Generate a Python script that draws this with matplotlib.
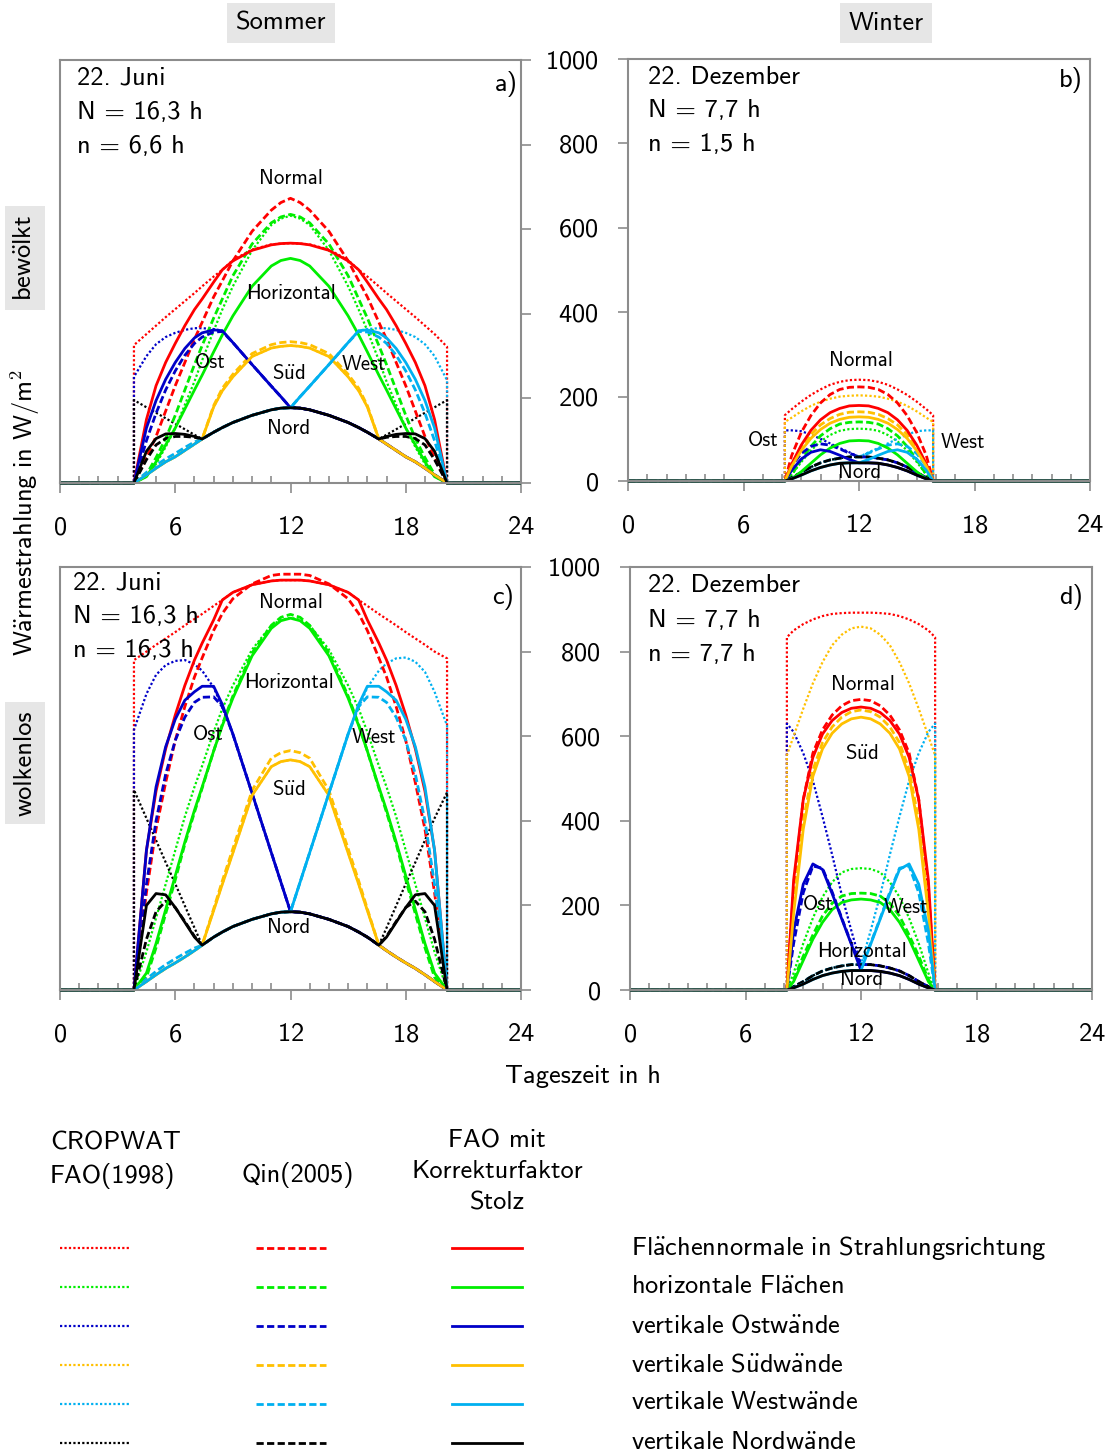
import matplotlib
matplotlib.use('Agg')
import matplotlib.pyplot as plt
from matplotlib.ticker import MultipleLocator

plt.rcParams['font.family'] = ['cmss10', 'DejaVu Sans']
plt.rcParams['mathtext.fontset'] = 'cm'
plt.rcParams['axes.formatter.use_mathtext'] = True

# --- time grids (h) ---
hours_summer = [0, 3.85, 3.85, 4.5, 5, 5.5, 6, 6.5, 7, 7.4, 8, 8.45, 9, 10, 11, 11.5, 12, 12.5,
                13, 14, 15, 15.55, 16, 16.6, 17, 17.5, 18, 18.5, 19, 19.5, 20.15, 20.15, 24]
hours_winter = [0, 8.15, 8.15, 8.5, 9, 9.5, 10, 10.5, 11, 11.5, 12,
                12.5, 13, 13.5, 14, 14.5, 15, 15.5, 15.85, 15.85, 24]

# --- a) Sommer, bewölkt (W/m2) ---
a_norm_cropwat = [0, 0, 326, 352, 372, 392, 411, 430, 449, 465, 488, 504, 527, 552, 564, 566, 567, 566, 564, 552, 527, 504, 488, 465, 449, 430, 411, 392, 372, 352, 322, 0, 0]
a_norm_qin = [0, 0, 0, 60, 110, 170, 230, 285, 340, 380, 440, 478, 525, 595, 645, 663, 673, 663, 645, 595, 525, 478, 440, 380, 340, 285, 230, 170, 110, 60, 0, 0, 0]
a_norm_stolz = [0, 0, 0, 150, 230, 285, 330, 372, 410, 435, 475, 504, 525, 550, 563, 566, 567, 566, 563, 550, 525, 504, 475, 435, 410, 372, 330, 285, 230, 150, 0, 0, 0]
a_hor_cropwat = [0, 0, 0, 15, 45, 85, 130, 185, 240, 290, 360, 410, 465, 550, 610, 625, 632, 625, 610, 550, 465, 410, 360, 290, 240, 185, 130, 85, 45, 15, 0, 0, 0]
a_hor_qin = [0, 0, 0, 20, 60, 105, 160, 220, 280, 325, 390, 435, 490, 565, 615, 629, 635, 629, 615, 565, 490, 435, 390, 325, 280, 220, 160, 105, 60, 20, 0, 0, 0]
a_hor_stolz = [0, 0, 0, 15, 50, 90, 130, 175, 220, 255, 310, 350, 395, 465, 513, 526, 531, 526, 513, 465, 395, 350, 310, 255, 220, 175, 130, 90, 50, 15, 0, 0, 0]
a_ost_cropwat = [0, 0, 251, 300, 328, 345, 355, 362, 366, 366, 364, 360, 332, 280, 229, 204, 178, 177, 173, 160, 143, 131, 120, 104, 92, 77, 62, 50, 35, 19, 0, 0, 0]
a_ost_qin = [0, 0, 0, 100, 165, 220, 265, 302, 330, 345, 357, 358, 332, 280, 229, 204, 178, 177, 173, 160, 143, 131, 120, 104, 92, 77, 62, 50, 35, 19, 0, 0, 0]
a_ost_stolz = [0, 0, 0, 130, 195, 245, 285, 318, 343, 355, 362, 360, 332, 280, 229, 204, 178, 177, 173, 160, 143, 131, 120, 104, 92, 77, 62, 50, 35, 19, 0, 0, 0]
a_sued_cropwat = [0, 0, 0, 19, 35, 50, 62, 77, 92, 104, 180, 218, 251, 299, 319, 323, 325, 323, 319, 299, 251, 218, 180, 104, 92, 77, 62, 50, 35, 19, 0, 0, 0]
a_sued_qin = [0, 0, 0, 19, 35, 50, 62, 77, 92, 104, 183, 224, 257, 306, 327, 332, 334, 332, 327, 306, 257, 224, 183, 104, 92, 77, 62, 50, 35, 19, 0, 0, 0]
a_sued_stolz = [0, 0, 0, 19, 35, 50, 62, 77, 92, 104, 180, 218, 251, 299, 319, 323, 325, 323, 319, 299, 251, 218, 180, 104, 92, 77, 62, 50, 35, 19, 0, 0, 0]
a_west_cropwat = [0, 0, 0, 19, 35, 50, 62, 77, 92, 104, 120, 131, 143, 160, 173, 177, 178, 204, 229, 280, 332, 360, 364, 366, 366, 362, 355, 345, 328, 300, 243, 0, 0]
a_west_qin = [0, 0, 0, 25, 42, 57, 70, 84, 97, 104, 120, 131, 143, 160, 173, 177, 178, 204, 229, 280, 332, 358, 357, 345, 330, 302, 265, 220, 165, 100, 0, 0, 0]
a_west_stolz = [0, 0, 0, 19, 35, 50, 62, 77, 92, 104, 120, 131, 143, 160, 173, 177, 178, 204, 229, 280, 332, 360, 362, 355, 343, 318, 285, 245, 195, 130, 0, 0, 0]
a_nord_cropwat = [0, 0, 196, 179, 166, 153, 140, 127, 114, 104, 120, 131, 143, 160, 173, 177, 178, 177, 173, 160, 143, 131, 120, 104, 114, 127, 140, 153, 166, 179, 196, 0, 0]
a_nord_qin = [0, 0, 0, 55, 90, 105, 110, 110, 108, 104, 120, 131, 143, 160, 173, 177, 178, 177, 173, 160, 143, 131, 120, 104, 108, 110, 110, 105, 90, 55, 0, 0, 0]
a_nord_stolz = [0, 0, 0, 75, 105, 116, 117, 115, 110, 104, 120, 131, 143, 160, 173, 177, 178, 177, 173, 160, 143, 131, 120, 104, 110, 115, 117, 116, 105, 75, 0, 0, 0]

# --- b) Winter, bewölkt ---
b_norm_cropwat = [0, 0, 156, 170, 188, 204, 217, 228, 235, 239, 240, 239, 235, 228, 217, 204, 188, 170, 156, 0, 0]
b_norm_qin = [0, 0, 0, 60, 115, 155, 185, 205, 217, 222, 223, 222, 217, 205, 185, 155, 115, 60, 0, 0, 0]
b_norm_stolz = [0, 0, 0, 40, 85, 120, 145, 162, 172, 178, 179, 178, 172, 162, 145, 120, 85, 40, 0, 0, 0]
b_hor_cropwat = [0, 0, 0, 15, 45, 72, 94, 109, 119, 123, 124, 123, 119, 109, 94, 72, 45, 15, 0, 0, 0]
b_hor_qin = [0, 0, 0, 15, 50, 82, 107, 124, 135, 139, 140, 139, 135, 124, 107, 82, 50, 15, 0, 0, 0]
b_hor_stolz = [0, 0, 0, 5, 22, 42, 62, 78, 89, 95, 96, 95, 89, 78, 62, 42, 22, 5, 0, 0, 0]
b_ost_cropwat = [0, 0, 120, 120, 118, 110, 100, 89, 78, 68, 57, 57, 54, 50, 43, 33, 20, 8, 0, 0, 0]
b_ost_qin = [0, 0, 0, 35, 65, 82, 88, 85, 76, 66, 57, 57, 54, 50, 43, 33, 20, 8, 0, 0, 0]
b_ost_stolz = [0, 0, 0, 25, 52, 68, 74, 70, 61, 51, 43, 43, 42, 38, 32, 24, 14, 5, 0, 0, 0]
b_sued_cropwat = [0, 0, 140, 150, 165, 178, 188, 195, 200, 202, 203, 202, 200, 195, 188, 178, 165, 150, 140, 0, 0]
b_sued_qin = [0, 0, 0, 40, 80, 110, 133, 148, 158, 163, 164, 163, 158, 148, 133, 110, 80, 40, 0, 0, 0]
b_sued_stolz = [0, 0, 0, 35, 72, 101, 122, 137, 146, 151, 152, 151, 146, 137, 122, 101, 72, 35, 0, 0, 0]
b_west_cropwat = [0, 0, 0, 8, 20, 33, 43, 50, 54, 57, 57, 68, 78, 89, 100, 110, 118, 120, 120, 0, 0]
b_west_qin = [0, 0, 0, 8, 20, 33, 43, 50, 54, 57, 57, 66, 76, 85, 88, 82, 65, 35, 0, 0, 0]
b_west_stolz = [0, 0, 0, 5, 14, 24, 32, 38, 42, 43, 43, 51, 61, 70, 74, 68, 52, 25, 0, 0, 0]
b_nord_cropwat = [0, 0, 0, 8, 20, 33, 43, 50, 54, 57, 57, 57, 54, 50, 43, 33, 20, 8, 0, 0, 0]
b_nord_qin = [0, 0, 0, 8, 20, 33, 43, 50, 54, 57, 57, 57, 54, 50, 43, 33, 20, 8, 0, 0, 0]
b_nord_stolz = [0, 0, 0, 5, 14, 24, 32, 38, 42, 43, 43, 43, 42, 38, 32, 24, 14, 5, 0, 0, 0]

# --- c) Sommer, wolkenlos ---
c_norm_cropwat = [0, 0, 780, 800, 816, 831, 846, 862, 877, 889, 908, 922, 940, 958, 967, 969, 969, 969, 967, 958, 940, 922, 908, 889, 877, 862, 846, 831, 816, 800, 784, 0, 0]
c_norm_qin = [0, 0, 0, 230, 380, 490, 590, 670, 740, 785, 850, 890, 925, 960, 980, 983, 983, 983, 980, 960, 925, 890, 850, 785, 740, 670, 590, 490, 380, 230, 0, 0, 0]
c_norm_stolz = [0, 0, 0, 330, 470, 570, 650, 720, 780, 820, 875, 922, 940, 958, 967, 969, 969, 969, 967, 958, 940, 922, 875, 820, 780, 720, 650, 570, 470, 330, 0, 0, 0]
c_hor_cropwat = [0, 0, 0, 90, 170, 250, 330, 410, 480, 530, 610, 665, 720, 805, 862, 875, 880, 875, 862, 805, 720, 665, 610, 530, 480, 410, 330, 250, 170, 90, 0, 0, 0]
c_hor_qin = [0, 0, 0, 30, 100, 180, 260, 345, 420, 477, 565, 628, 695, 797, 862, 881, 888, 881, 862, 797, 695, 628, 565, 477, 420, 345, 260, 180, 100, 30, 0, 0, 0]
c_hor_stolz = [0, 0, 0, 40, 110, 190, 270, 350, 425, 480, 565, 625, 690, 790, 855, 873, 879, 873, 855, 790, 690, 625, 565, 480, 425, 350, 270, 190, 110, 40, 0, 0, 0]
c_ost_cropwat = [0, 0, 615, 700, 745, 768, 778, 780, 770, 755, 715, 668, 605, 465, 325, 255, 185, 184, 180, 167, 150, 137, 125, 106, 93, 78, 64, 51, 36, 20, 0, 0, 0]
c_ost_qin = [0, 0, 0, 250, 400, 510, 590, 645, 680, 692, 693, 670, 605, 465, 325, 255, 185, 184, 180, 167, 150, 137, 125, 106, 93, 78, 64, 51, 36, 20, 0, 0, 0]
c_ost_stolz = [0, 0, 0, 330, 480, 575, 640, 685, 705, 718, 718, 675, 605, 465, 325, 255, 185, 184, 180, 167, 150, 137, 125, 106, 93, 78, 64, 51, 36, 20, 0, 0, 0]
c_sued_cropwat = [0, 0, 0, 20, 36, 51, 64, 78, 93, 106, 188, 250, 324, 460, 528, 540, 544, 540, 528, 460, 324, 250, 188, 106, 93, 78, 64, 51, 36, 20, 0, 0, 0]
c_sued_qin = [0, 0, 0, 20, 36, 51, 64, 78, 93, 106, 192, 258, 334, 472, 548, 561, 566, 561, 548, 472, 334, 258, 192, 106, 93, 78, 64, 51, 36, 20, 0, 0, 0]
c_sued_stolz = [0, 0, 0, 20, 36, 51, 64, 78, 93, 106, 188, 250, 324, 460, 528, 540, 544, 540, 528, 460, 324, 250, 188, 106, 93, 78, 64, 51, 36, 20, 0, 0, 0]
c_west_cropwat = [0, 0, 0, 20, 36, 51, 64, 78, 93, 106, 125, 137, 150, 167, 180, 184, 185, 255, 325, 465, 605, 668, 715, 755, 772, 784, 786, 776, 752, 705, 625, 0, 0]
c_west_qin = [0, 0, 0, 26, 44, 60, 74, 87, 99, 106, 125, 137, 150, 167, 180, 184, 185, 255, 325, 465, 605, 670, 693, 692, 680, 645, 590, 510, 400, 250, 0, 0, 0]
c_west_stolz = [0, 0, 0, 20, 36, 51, 64, 78, 93, 106, 125, 137, 150, 167, 180, 184, 185, 255, 325, 465, 605, 675, 718, 718, 705, 685, 640, 575, 480, 330, 0, 0, 0]
c_nord_cropwat = [0, 0, 473, 406, 354, 302, 251, 199, 147, 106, 125, 137, 150, 167, 180, 184, 185, 184, 180, 167, 150, 137, 125, 106, 147, 199, 251, 302, 354, 406, 467, 0, 0]
c_nord_qin = [0, 0, 0, 120, 185, 210, 195, 162, 127, 106, 125, 137, 150, 167, 180, 184, 185, 184, 180, 167, 150, 137, 125, 106, 127, 162, 195, 210, 185, 120, 0, 0, 0]
c_nord_stolz = [0, 0, 0, 200, 228, 225, 195, 160, 125, 106, 125, 137, 150, 167, 180, 184, 185, 184, 180, 167, 150, 137, 125, 106, 125, 160, 195, 225, 228, 200, 0, 0, 0]

# --- d) Winter, wolkenlos ---
d_norm_cropwat = [0, 0, 834, 850, 865, 876, 884, 889, 891, 892, 892, 892, 891, 889, 884, 876, 865, 850, 834, 0, 0]
d_norm_qin = [0, 0, 0, 240, 450, 560, 615, 650, 672, 684, 687, 684, 672, 650, 615, 560, 450, 240, 0, 0, 0]
d_norm_stolz = [0, 0, 0, 260, 450, 550, 605, 637, 656, 666, 669, 666, 656, 637, 605, 550, 450, 260, 0, 0, 0]
d_hor_cropwat = [0, 0, 0, 40, 110, 170, 220, 255, 278, 286, 288, 286, 278, 255, 220, 170, 110, 40, 0, 0, 0]
d_hor_qin = [0, 0, 0, 25, 80, 130, 175, 205, 222, 228, 229, 228, 222, 205, 175, 130, 80, 25, 0, 0, 0]
d_hor_stolz = [0, 0, 0, 20, 70, 120, 160, 190, 207, 213, 215, 213, 207, 190, 160, 120, 70, 20, 0, 0, 0]
d_ost_cropwat = [0, 0, 630, 610, 560, 495, 410, 320, 225, 140, 60, 60, 57, 52, 45, 34, 20, 8, 0, 0, 0]
d_ost_qin = [0, 0, 0, 110, 230, 293, 288, 232, 170, 110, 60, 60, 57, 52, 45, 34, 20, 8, 0, 0, 0]
d_ost_stolz = [0, 0, 0, 140, 250, 298, 285, 228, 168, 108, 46, 46, 44, 40, 34, 25, 14, 5, 0, 0, 0]
d_sued_cropwat = [0, 0, 555, 600, 665, 725, 775, 815, 840, 855, 859, 855, 840, 815, 775, 725, 665, 600, 555, 0, 0]
d_sued_qin = [0, 0, 0, 200, 400, 520, 585, 622, 645, 658, 662, 658, 645, 622, 585, 520, 400, 200, 0, 0, 0]
d_sued_stolz = [0, 0, 0, 180, 380, 505, 570, 607, 629, 641, 645, 641, 629, 607, 570, 505, 380, 180, 0, 0, 0]
d_west_cropwat = [0, 0, 0, 8, 20, 34, 45, 52, 57, 60, 60, 140, 225, 320, 410, 495, 560, 610, 630, 0, 0]
d_west_qin = [0, 0, 0, 8, 20, 34, 45, 52, 57, 60, 60, 110, 170, 232, 288, 293, 230, 110, 0, 0, 0]
d_west_stolz = [0, 0, 0, 5, 14, 25, 34, 40, 44, 46, 46, 108, 168, 228, 285, 298, 250, 140, 0, 0, 0]
d_nord_cropwat = [0, 0, 0, 8, 20, 34, 45, 52, 57, 60, 60, 60, 57, 52, 45, 34, 20, 8, 0, 0, 0]
d_nord_qin = [0, 0, 0, 8, 20, 34, 45, 52, 57, 60, 60, 60, 57, 52, 45, 34, 20, 8, 0, 0, 0]
d_nord_stolz = [0, 0, 0, 5, 14, 25, 34, 40, 44, 46, 46, 46, 44, 40, 34, 25, 14, 5, 0, 0, 0]

surfaces = ['Flächennormale in Strahlungsrichtung', 'horizontale Flächen', 'vertikale Ostwände',
            'vertikale Südwände', 'vertikale Westwände', 'vertikale Nordwände']
colors = ['#ff0000', '#00ee00', '#0000c8', '#ffc000', '#00b0f0', '#000000']
methods = ['CROPWAT\nFAO(1998)', 'Qin(2005)', 'FAO mit\nKorrekturfaktor\nStolz']
styles = [dict(linestyle=(0, (1, 1)), lw=1.6),
          dict(linestyle=(0, (2.6, 1.2)), lw=2.0),
          dict(linestyle='-', lw=2.0)]

GRAY = '#8c8c8c'
FS = 19
W, H = 1111, 1454
fig = plt.figure(figsize=(W / 100, H / 100), dpi=100)


def sf(s):
    # cmss10 has no umlauts: set the string in mathtext sans with accents
    for k, v in [(' ', r'\ '), ('ä', r'\ddot{a}'), ('ö', r'\ddot{o}'), ('ü', r'\ddot{u}')]:
        s = s.replace(k, v)
    return r'$\mathsf{' + s + '}$'


def px_axes(x0, y0, x1, y1):
    return fig.add_axes([x0 / W, 1 - y1 / H, (x1 - x0) / W, (y1 - y0) / H])


def draw_panel(ax, hours, data, labels, left_labels):
    # data: per surface (cropwat, qin, stolz)
    for m in range(3):
        for s in range(6):
            ax.plot(hours, data[s][m], color=colors[s], clip_on=False,
                    solid_capstyle='butt', **styles[m])
    ax.set_xlim(0, 24)
    ax.set_ylim(0, 1000)
    ax.set_xticks([0, 6, 12, 18, 24])
    ax.xaxis.set_minor_locator(MultipleLocator(1))
    ax.tick_params(axis='x', which='major', direction='out', length=7, width=1.2,
                   color=GRAY, labelsize=FS, pad=17)
    ax.tick_params(axis='x', which='minor', direction='in', length=5, width=1.2, color=GRAY)
    ax.set_yticks(range(0, 1001, 200))
    if left_labels:
        ax.tick_params(axis='y', direction='out', length=7, width=1.2, color=GRAY,
                       labelsize=FS, pad=14, left=True, right=False)
    else:
        ax.tick_params(axis='y', direction='out', length=7, width=1.2, color=GRAY,
                       left=False, right=True, labelleft=False, labelright=False)
    for sp in ax.spines.values():
        sp.set_color(GRAY)
        sp.set_linewidth(1.5)
    ax.set_facecolor('none')
    for txt, x, y in labels:
        ax.text(x, y, txt, fontsize=15, ha='center', va='center')


ax_a = px_axes(60, 60, 521, 483)
draw_panel(ax_a, hours_summer,
           [(a_norm_cropwat, a_norm_qin, a_norm_stolz), (a_hor_cropwat, a_hor_qin, a_hor_stolz),
            (a_ost_cropwat, a_ost_qin, a_ost_stolz), (a_sued_cropwat, a_sued_qin, a_sued_stolz),
            (a_west_cropwat, a_west_qin, a_west_stolz), (a_nord_cropwat, a_nord_qin, a_nord_stolz)],
           [('Normal', 12.0, 719), ('Horizontal', 12.0, 449), ('Ost', 7.8, 286),
            (sf('Süd'), 11.9, 260), ('West', 15.8, 281), ('Nord', 11.9, 128)], False)

ax_b = px_axes(628, 59, 1090, 481)
draw_panel(ax_b, hours_winter,
           [(b_norm_cropwat, b_norm_qin, b_norm_stolz), (b_hor_cropwat, b_hor_qin, b_hor_stolz),
            (b_ost_cropwat, b_ost_qin, b_ost_stolz), (b_sued_cropwat, b_sued_qin, b_sued_stolz),
            (b_west_cropwat, b_west_qin, b_west_stolz), (b_nord_cropwat, b_nord_qin, b_nord_stolz)],
           [('Normal', 12.1, 286), ('Ost', 7.0, 95), ('West', 17.4, 92), ('Nord', 12.05, 21)], True)

ax_c = px_axes(60, 567, 521, 990)
draw_panel(ax_c, hours_summer,
           [(c_norm_cropwat, c_norm_qin, c_norm_stolz), (c_hor_cropwat, c_hor_qin, c_hor_stolz),
            (c_ost_cropwat, c_ost_qin, c_ost_stolz), (c_sued_cropwat, c_sued_qin, c_sued_stolz),
            (c_west_cropwat, c_west_qin, c_west_stolz), (c_nord_cropwat, c_nord_qin, c_nord_stolz)],
           [('Normal', 12.0, 915), ('Horizontal', 11.9, 726), ('Ost', 7.7, 603),
            ('West', 16.35, 598), (sf('Süd'), 11.9, 473), ('Nord', 11.9, 147)], False)

ax_d = px_axes(630, 567, 1092, 990)
draw_panel(ax_d, hours_winter,
           [(d_norm_cropwat, d_norm_qin, d_norm_stolz), (d_hor_cropwat, d_hor_qin, d_hor_stolz),
            (d_ost_cropwat, d_ost_qin, d_ost_stolz), (d_sued_cropwat, d_sued_qin, d_sued_stolz),
            (d_west_cropwat, d_west_qin, d_west_stolz), (d_nord_cropwat, d_nord_qin, d_nord_stolz)],
           [('Normal', 12.1, 723), (sf('Süd'), 12.05, 560), ('Ost', 9.77, 201),
            ('West', 14.34, 194), ('Horizontal', 12.05, 90), ('Nord', 12.05, 26)], True)

# overlay in pixel coordinates for titles, annotations and the legend table
ov = fig.add_axes([0, 0, 1, 1])
ov.set_xlim(0, W)
ov.set_ylim(H, 0)
ov.axis('off')
ov.patch.set_visible(False)

box = dict(facecolor='#e6e6e6', edgecolor='none', pad=6)
ov.text(281, 23, 'Sommer', fontsize=FS, ha='center', va='center', bbox=box)
ov.text(886, 23, 'Winter', fontsize=FS, ha='center', va='center', bbox=box)
ov.text(25, 258, sf('bewölkt'), fontsize=FS, ha='center', va='center', rotation=90, bbox=box)
ov.text(25, 763, 'wolkenlos', fontsize=FS, ha='center', va='center', rotation=90, bbox=box)
ov.text(25, 513, r'$\mathsf{W\ddot{a}rmestrahlung\ in\ W/m}^{\mathsf{2}}$', fontsize=FS,
        ha='center', va='center', rotation=90)
ov.text(583, 1076, 'Tageszeit in h', fontsize=FS, ha='center', va='center')

panel_info = [
    (77, 78, 34, ['22. Juni', 'N = 16,3 h', 'n = 6,6 h'], 518, 84, 'a)'),
    (648, 78, 33, ['22. Dezember', 'N = 7,7 h', 'n = 1,5 h'], 1083, 80, 'b)'),
    (73, 583, 34, ['22. Juni', 'N = 16,3 h', 'n = 16,3 h'], 514, 597, 'c)'),
    (648, 586, 34, ['22. Dezember', 'N = 7,7 h', 'n = 7,7 h'], 1083, 597, 'd)'),
]
for x, y, dy, lines, lx, ly, tag in panel_info:
    for i, s in enumerate(lines):
        ov.text(x, y + i * dy, s, fontsize=FS, ha='left', va='center')
    ov.text(lx, ly, tag, fontsize=FS, ha='right', va='center')

# legend table
ov.text(50, 1160, methods[0], fontsize=FS, ha='left', va='center', linespacing=1.45)
ov.text(298, 1175, methods[1], fontsize=FS, ha='center', va='center')
ov.text(497, 1172, methods[2], fontsize=FS, ha='center', va='center', linespacing=1.45)
row_y = [1248, 1287, 1326, 1365, 1404, 1443]
col_x = [(60, 130), (256, 326), (452, 522)]
for s in range(6):
    for m in range(3):
        ov.plot(col_x[m], [row_y[s], row_y[s]], color=colors[s], **styles[m])
    ov.text(631, row_y[s], sf(surfaces[s]), fontsize=FS, ha='left', va='center')

fig.savefig('out.png', dpi=100)
